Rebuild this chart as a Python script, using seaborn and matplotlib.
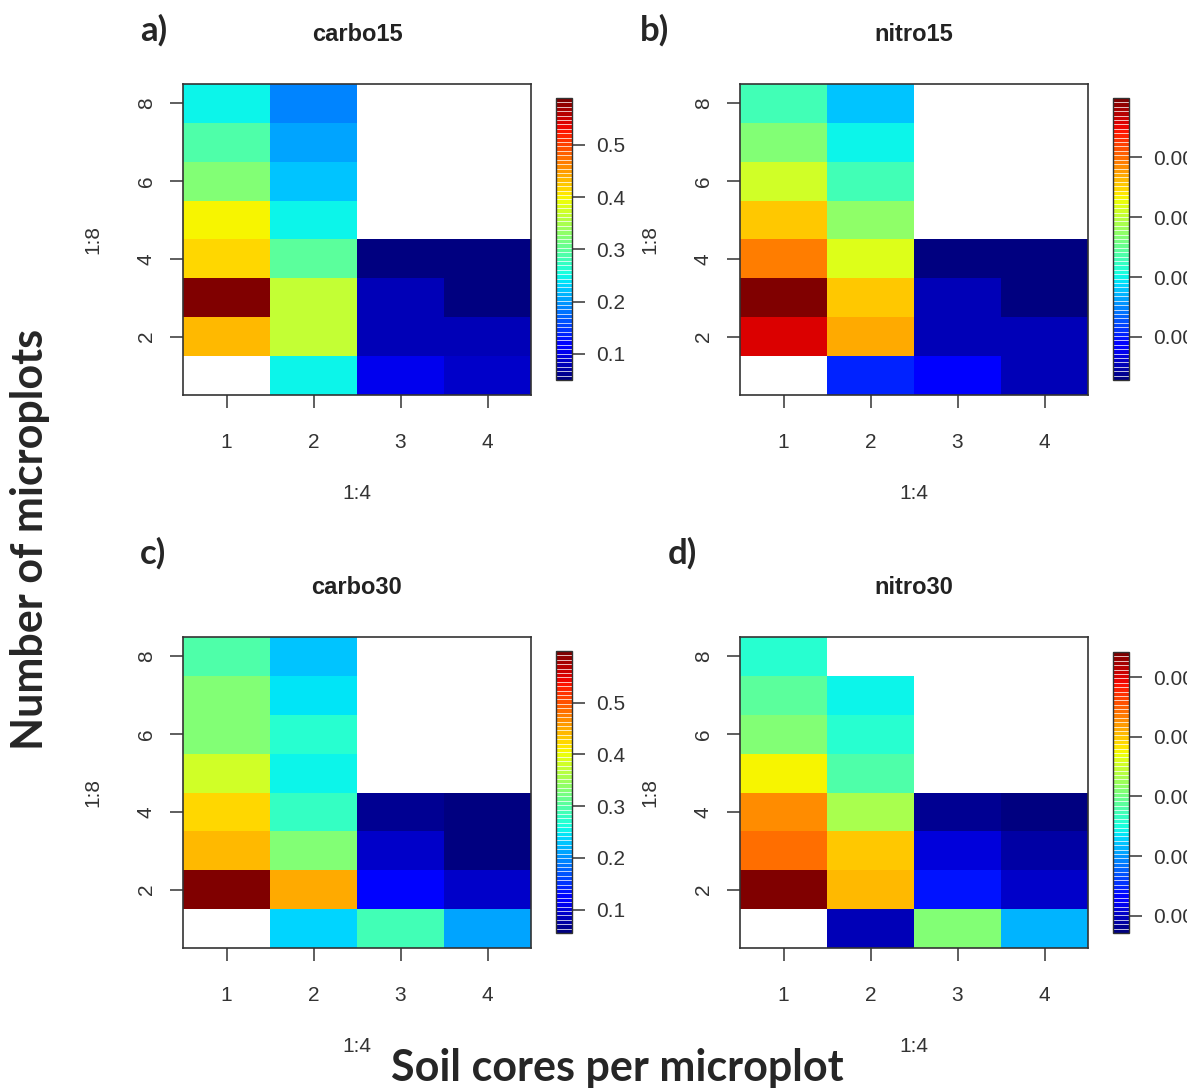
import numpy as np
import pandas as pd
import matplotlib
matplotlib.use("Agg")
import matplotlib.pyplot as plt
from matplotlib.transforms import Bbox, TransformedBbox
import seaborn as sns

sns.set_style("ticks")
plt.rcParams['font.family'] = ['Liberation Sans', 'DejaVu Sans']

nan = np.nan
rows = [1, 2, 3, 4, 5, 6, 7, 8]      # number of microplots
cols = [1, 2, 3, 4]                  # soil cores per microplot

# values per column, listed from row 1 (bottom) to row 8 (top)
carbo15 = {
    1: [nan, 0.432, 0.590, 0.417, 0.398, 0.323, 0.294, 0.251],
    2: [0.251, 0.365, 0.363, 0.301, 0.245, 0.226, 0.205, 0.192],
    3: [0.109, 0.083, 0.082, 0.056, nan, nan, nan, nan],
    4: [0.092, 0.076, 0.056, 0.050, nan, nan, nan, nan],
}
nitro15 = {
    1: [nan, 0.00462, 0.00499, 0.00393, 0.00355, 0.00312, 0.00266, 0.00232],
    2: [0.00105, 0.00370, 0.00353, 0.00321, 0.00273, 0.00232, 0.00198, 0.00181],
    3: [0.00080, 0.00054, 0.00051, 0.00029, nan, nan, nan, nan],
    4: [0.00057, 0.00051, 0.00033, 0.00028, nan, nan, nan, nan],
}
carbo30 = {
    1: [nan, 0.600, 0.445, 0.423, 0.384, 0.330, 0.330, 0.296],
    2: [0.241, 0.451, 0.329, 0.283, 0.258, 0.271, 0.246, 0.232],
    3: [0.292, 0.130, 0.091, 0.067, nan, nan, nan, nan],
    4: [0.212, 0.091, 0.061, 0.055, nan, nan, nan, nan],
}
nitro30 = {
    1: [nan, 0.00542, 0.00446, 0.00430, 0.00375, 0.00309, 0.00290, 0.00258],
    2: [0.00097, 0.00404, 0.00396, 0.00335, 0.00284, 0.00258, 0.00241, nan],
    3: [0.00309, 0.00144, 0.00112, 0.00083, nan, nan, nan, nan],
    4: [0.00218, 0.00107, 0.00087, 0.00071, nan, nan, nan, nan],
}

carbo_ticks = [0.1, 0.2, 0.3, 0.4, 0.5]
nitro15_ticks = [0.001, 0.002, 0.003, 0.004]
nitro30_ticks = [0.001, 0.002, 0.003, 0.004, 0.005]
ytick_rows = [2, 4, 6, 8]

W, H = 1200, 1090
fig = plt.figure(figsize=(W / 100, H / 100), dpi=100)

def px(x0, y0, x1, y1):
    # pixel box -> figure fraction rect
    return [x0 / W, 1 - y1 / H, (x1 - x0) / W, (y1 - y0) / H]

jet64 = matplotlib.colormaps["jet"].resampled(64)
grey = "#333333"
# the original picture is cropped just past the right colorbar labels
crop = TransformedBbox(Bbox([[0, 0], [1187 / W, 1]]), fig.transFigure)

panels = [
    ("carbo15", "a)", carbo15, carbo_ticks, "%.1f", px(183, 84, 531, 395), px(556, 98, 572, 380), (140, 30)),
    ("nitro15", "b)", nitro15, nitro15_ticks, "%.3f", px(740, 84, 1088, 395), px(1113, 98, 1129, 380), (640, 30)),
    ("carbo30", "c)", carbo30, carbo_ticks, "%.1f", px(183, 637, 531, 948), px(556, 651, 572, 933), (140, 553)),
    ("nitro30", "d)", nitro30, nitro30_ticks, "%.3f", px(740, 637, 1088, 948), px(1113, 652, 1129, 933), (668, 553)),
]

for title, letter, data, ticks, fmt, pos, cpos, lpos in panels:
    df = pd.DataFrame(data, index=rows).iloc[::-1]
    ax = fig.add_axes(pos)
    cax = fig.add_axes(cpos)
    sns.heatmap(df, ax=ax, cbar_ax=cax, cmap=jet64,
                cbar_kws={"ticks": ticks, "drawedges": True})

    ax.set_xticks([i + 0.5 for i in range(len(cols))])
    ax.set_xticklabels(cols, rotation=0)
    ax.set_yticks([len(rows) - r + 0.5 for r in ytick_rows])
    ax.set_yticklabels(ytick_rows, rotation=90, va="center")
    for s in ax.spines.values():
        s.set_visible(True)
        s.set_color(grey)
        s.set_linewidth(1.2)
    ax.tick_params(axis="x", length=9.5, width=1.1, color=grey, labelcolor=grey,
                   labelsize=15, pad=18)
    ax.tick_params(axis="y", length=9.5, width=1.1, color=grey, labelcolor=grey,
                   labelsize=15, pad=10)
    ax.set_xlabel("1:4", fontsize=15, color=grey, labelpad=23)
    ax.set_ylabel("1:8", fontsize=15, color=grey, labelpad=25)
    ax.set_title(title, fontsize=17, fontweight="bold", color="#222222", pad=31)

    cbar = ax.collections[0].colorbar
    cbar.outline.set_linewidth(1.0)
    cbar.outline.set_edgecolor(grey)
    cbar.dividers.set_color("white")
    cbar.dividers.set_linewidth(0.7)
    cbar.dividers.set_alpha(0.75)
    cbar.ax.yaxis.set_major_formatter(matplotlib.ticker.FormatStrFormatter(fmt))
    cbar.ax.tick_params(length=9.5, width=1.1, color=grey, labelcolor=grey,
                        labelsize=15, pad=8)
    for tk in cbar.ax.yaxis.get_major_ticks():
        tk.label2.set_clip_box(crop)
        tk.label2.set_clip_on(True)

    fig.text(lpos[0] / W, 1 - lpos[1] / H, letter, fontsize=25, fontweight="bold",
             family=["Lato", "DejaVu Sans"], ha="left", va="center")

fig.text(30 / W, 0.505, "Number of microplots", rotation=90, fontsize=31,
         fontweight="bold", family=["Lato", "DejaVu Sans"], ha="center", va="center")
fig.text(617 / W, 1 - 1068 / H, "Soil cores per microplot", fontsize=31,
         fontweight="bold", family=["Lato", "DejaVu Sans"], ha="center", va="center")

fig.savefig("out.png", dpi=100)
